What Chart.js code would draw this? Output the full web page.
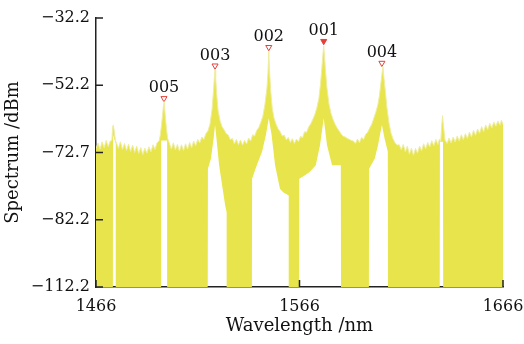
<!DOCTYPE html>
<html>
<head>
<meta charset="utf-8">
<script src="https://cdn.jsdelivr.net/npm/chart.js@4/dist/chart.umd.min.js"></script>
<style>
  html, body { margin: 0; padding: 0; background: #fff; }
  #wrap { width: 524px; height: 344px; }
</style>
</head>
<body>
<div id="wrap"><canvas id="spectrumChart" width="524" height="344"></canvas></div>
<script>
// spectre : longueur d'onde (nm) / puissance (dBm)
const wavelengths = [
  1466, 1467, 1468, 1469, 1470, 1471, 1472, 1473, 1473.8, 1474.2, 1474.5, 1474.9, 1475.6,
  1476, 1477, 1478, 1479, 1480, 1481, 1482, 1483, 1484, 1485, 1486, 1487, 1488, 1489, 1490,
  1491, 1492, 1493, 1494, 1495, 1496, 1497, 1497.6, 1498.2, 1498.8, 1499.2, 1499.4, 1499.6,
  1500.0, 1500.6, 1501.2, 1502, 1503, 1504, 1505, 1506, 1507, 1508, 1509, 1510, 1511, 1512,
  1513, 1514, 1515, 1516, 1517, 1518, 1519, 1520, 1521, 1522, 1523, 1523.8, 1524.2, 1524.5,
  1524.8, 1525.2, 1526, 1527, 1528, 1529, 1530, 1531, 1532, 1533, 1534, 1535, 1536, 1537,
  1538, 1539, 1540, 1541, 1542, 1543, 1544, 1545, 1546, 1547, 1548, 1549, 1550, 1550.5,
  1550.9, 1551.3, 1551.8, 1552.6, 1553.5, 1554.5, 1555.5, 1556.5, 1557.5, 1558.5, 1559.5,
  1560.5, 1561.5, 1562.5, 1563.5, 1564.5, 1565.5, 1566.5, 1567.5, 1568.5, 1569.5, 1570.5,
  1571.5, 1572.5, 1573.5, 1574.5, 1575.5, 1576.3, 1577.0, 1577.5, 1577.9, 1578.3, 1578.8,
  1579.5, 1580.5, 1581.5, 1582.5, 1583.5, 1584.5, 1585.5, 1586.5, 1587.5, 1588.5, 1589.5,
  1590.5, 1591.5, 1592.5, 1593.5, 1594.5, 1595.5, 1596.5, 1597.5, 1598.5, 1599.5, 1600.5,
  1601.5, 1602.5, 1603.5, 1604.5, 1605.3, 1605.9, 1606.5, 1607.0, 1607.5, 1608.2, 1609,
  1610, 1611, 1612, 1613, 1614, 1615, 1616, 1617, 1618, 1619, 1620, 1621, 1622, 1623, 1624,
  1625, 1626, 1627, 1628, 1629, 1630, 1631, 1632, 1633, 1634, 1634.8, 1635.4, 1635.9, 1636.3,
  1636.8, 1637.5, 1638.5, 1639.5, 1640.5, 1641.5, 1642.5, 1643.5, 1644.5, 1645.5, 1646.5,
  1647.5, 1648.5, 1649.5, 1650.5, 1651.5, 1652.5, 1653.5, 1654.5, 1655.5, 1656.5, 1657.5,
  1658.5, 1659.5, 1660.5, 1661.5, 1662.5, 1663.5, 1664.5, 1665.2, 1666
];
const powers = [
  -71.0, -69.4, -71.2, -69.0, -70.8, -68.6, -70.5, -68.8, -68.6, -64.5, -64.0, -65.5, -68.8,
  -69.2, -71.0, -69.0, -71.3, -69.5, -71.6, -69.7, -71.9, -70.0, -72.2, -70.3, -72.5, -70.7, -72.8, -70.9,
  -72.4, -70.5, -72.0, -69.9, -71.3, -69.3, -68.8, -67.0, -64.0, -60.5, -57.8, -57.0, -57.8,
  -61.0, -65.0, -68.0, -69.3, -71.2, -69.3, -71.4, -69.8, -71.8, -69.9, -71.6, -69.6, -71.2, -69.2,
  -70.8, -68.8, -70.2, -68.3, -69.4, -67.6, -68.3, -66.6, -65.8, -63.8, -59.5, -53.5, -49.5, -47.6,
  -49.8, -54.0, -59.8, -62.8, -64.6, -65.5, -66.6, -67.0, -68.4, -68.0, -69.6, -68.3, -69.9, -68.5,
  -70.0, -68.6, -69.7, -67.9, -68.8, -66.9, -67.3, -65.6, -64.8, -63.2, -61.4, -58.0, -53.0, -48.5,
  -42.2, -48.0, -53.5, -59.0, -62.0, -63.8, -65.2, -66.0, -67.3, -67.0, -68.5,
  -67.7, -69.2, -68.1, -69.5, -68.2, -69.0, -67.4, -67.8, -66.0, -66.2, -64.6,
  -63.7, -62.4, -61.0, -59.0, -56.2, -52.0, -47.0, -43.0, -40.4, -43.5, -48.0,
  -53.0, -57.8, -60.6, -62.4, -63.8, -64.9, -65.8, -66.7, -67.4, -67.6, -68.0,
  -68.3, -68.6, -68.8, -69.5, -68.2, -69.3, -67.7, -68.3, -66.8, -66.2, -64.9, -63.8,
  -62.0, -60.2, -58.0, -55.2, -52.0, -49.0, -46.6, -50.0, -54.0, -59.0, -63.5,
  -66.5, -68.2, -69.4, -70.0, -69.9, -71.4, -69.8, -72.0, -70.3, -72.7, -70.9, -73.0, -71.0, -72.4, -70.3,
  -71.7, -69.6, -71.1, -69.2, -70.6, -68.7, -70.2, -68.3, -69.8, -68.2, -68.9, -64.0, -61.2, -64.5,
  -68.5, -69.5, -67.9, -69.4, -67.6, -69.1, -67.3, -68.8, -66.9, -68.4, -66.6,
  -68.0, -66.1, -67.6, -65.6, -67.1, -65.2, -66.5, -64.5, -66.0, -64.0, -65.4,
  -63.5, -64.9, -63.1, -64.4, -62.8, -64.1, -62.6, -63.8, -63.6
];

// bas du remplissage (zones blanches sous les pics)
const floorWavelengths = [
  1466, 1474.3, 1474.35, 1475.7, 1475.75,
  1498.0, 1498.05, 1500.95, 1501.0,
  1520.9, 1521.0, 1522.5, 1523.8, 1524.5, 1525.2, 1526.5, 1528, 1529.5, 1530.2, 1530.3,
  1542.6, 1542.7, 1545, 1547.6, 1549.5, 1550.9, 1552.3, 1554, 1556.4, 1558, 1560.7, 1560.8,
  1565.8, 1565.9, 1568.7, 1571, 1574, 1576.1, 1577.9, 1579.5, 1582, 1586.3, 1586.4,
  1600.1, 1600.2, 1603, 1604.6, 1606.5, 1607.8, 1609.4, 1609.5,
  1634.9, 1635.0, 1636.5, 1636.6, 1666
];
const floorPowers = [
  -112.2, -112.2, -67.0, -69.6, -112.2,
  -112.2, -68.6, -68.6, -112.2,
  -112.2, -77, -74, -68, -64, -68, -76, -82, -88, -90, -112.2,
  -112.2, -80, -76, -72, -67, -62, -67, -76, -83, -84, -85, -112.2,
  -112.2, -80, -79, -78, -76, -70, -62, -70, -76, -76, -112.2,
  -112.2, -77, -74, -70, -64, -68, -72, -112.2,
  -112.2, -69, -69, -112.2, -112.2
];

// pics marqués
const peakNames = ['005', '003', '002', '001', '004'];
const peakWavelengths = [1499.4, 1524.5, 1550.9, 1577.9, 1606.5];
const peakPowers = [-56.1, -46.4, -40.9, -39.1, -45.6];

// axes
const xTickValues = [1466, 1566, 1666];
const yTickValues = [-32.2, -52.2, -72.2, -92.2, -112.2];
const yTickLabels = ['\u221232.2', '\u221252.2', '\u221272.7', '\u221282.2', '\u2212112.2'];

const envelope = wavelengths.map((w, i) => ({x: w, y: powers[i]}));
const floorLine = floorWavelengths.map((w, i) => ({x: w, y: floorPowers[i]}));
const peaks = peakWavelengths.map((w, i) => ({x: w, y: peakPowers[i]}));

const serif = "'DejaVu Serif', serif";

// petits traits vers l'intérieur + noms des pics
const tickMarks = {
  id: 'tickMarks',
  afterDatasetsDraw(chart) {
    const {ctx, chartArea, scales} = chart;
    ctx.save();
    ctx.strokeStyle = '#222';
    ctx.lineWidth = 1.5;
    ctx.beginPath();
    yTickValues.forEach(v => {
      const y = scales.y.getPixelForValue(v);
      ctx.moveTo(chartArea.left, y);
      ctx.lineTo(chartArea.left + 7, y);
    });
    xTickValues.forEach(v => {
      const x = scales.x.getPixelForValue(v);
      ctx.moveTo(x, chartArea.bottom);
      ctx.lineTo(x, chartArea.bottom - 7);
    });
    ctx.stroke();

    const meta = chart.getDatasetMeta(2);
    ctx.fillStyle = '#111';
    ctx.font = "16px 'DejaVu Serif'";
    ctx.textAlign = 'center';
    ctx.textBaseline = 'alphabetic';
    meta.data.forEach((pt, i) => ctx.fillText(peakNames[i], pt.x, pt.y - 6));
    ctx.restore();
  }
};

new Chart(document.getElementById('spectrumChart'), {
  type: 'line',
  data: {
    datasets: [
      {
        label: 'floor',
        data: floorLine,
        borderColor: 'rgba(0,0,0,0)',
        borderWidth: 0,
        pointRadius: 0,
        fill: false
      },
      {
        label: 'spectrum',
        data: envelope,
        borderColor: '#efeda2',
        borderWidth: 1,
        backgroundColor: '#e7e54b',
        pointRadius: 0,
        fill: '-1'
      },
      {
        label: 'peaks',
        data: peaks,
        showLine: false,
        pointStyle: 'triangle',
        rotation: 180,
        pointRadius: 3.5,
        borderColor: '#e5403a',
        borderWidth: 1,
        backgroundColor: peakNames.map(n => n === '001' ? '#e5403a' : '#ffffff'),
        fill: false
      }
    ]
  },
  options: {
    responsive: false,
    animation: false,
    layout: { padding: { top: 18, right: 21, left: 0, bottom: 0 } },
    plugins: { legend: { display: false }, tooltip: { enabled: false } },
    elements: { line: { tension: 0 } },
    scales: {
      x: {
        type: 'linear',
        min: 1466,
        max: 1666,
        z: 1,
        afterBuildTicks: s => { s.ticks = xTickValues.map(v => ({value: v})); },
        afterFit: s => { s.height = 57; },
        grid: { display: true, drawOnChartArea: false, drawTicks: true, tickLength: 10, color: 'rgba(0,0,0,0)' },
        border: { display: true, color: '#222', width: 1.5 },
        ticks: {
          color: '#111',
          font: { family: serif, size: 16 },
          padding: 0,
          maxRotation: 0,
          autoSkip: false,
          callback: v => String(v)
        },
        title: {
          display: true,
          text: 'Wavelength /nm',
          color: '#111',
          font: { family: serif, size: 18 },
          padding: { top: 0, bottom: 7 }
        }
      },
      y: {
        type: 'linear',
        min: -112.2,
        max: -32.2,
        z: 1,
        afterBuildTicks: s => { s.ticks = yTickValues.map(v => ({value: v})); },
        afterFit: s => { s.width = 96; },
        grid: { display: false, drawTicks: false },
        border: { display: true, color: '#222', width: 1.5 },
        ticks: {
          color: '#111',
          font: { family: serif, size: 16 },
          padding: 6,
          autoSkip: false,
          callback: (v, i) => yTickLabels[i]
        },
        title: {
          display: true,
          text: 'Spectrum /dBm',
          color: '#111',
          font: { family: serif, size: 18 },
          padding: { top: 3, bottom: 0 }
        }
      }
    }
  },
  plugins: [tickMarks]
});
</script>
</body>
</html>
